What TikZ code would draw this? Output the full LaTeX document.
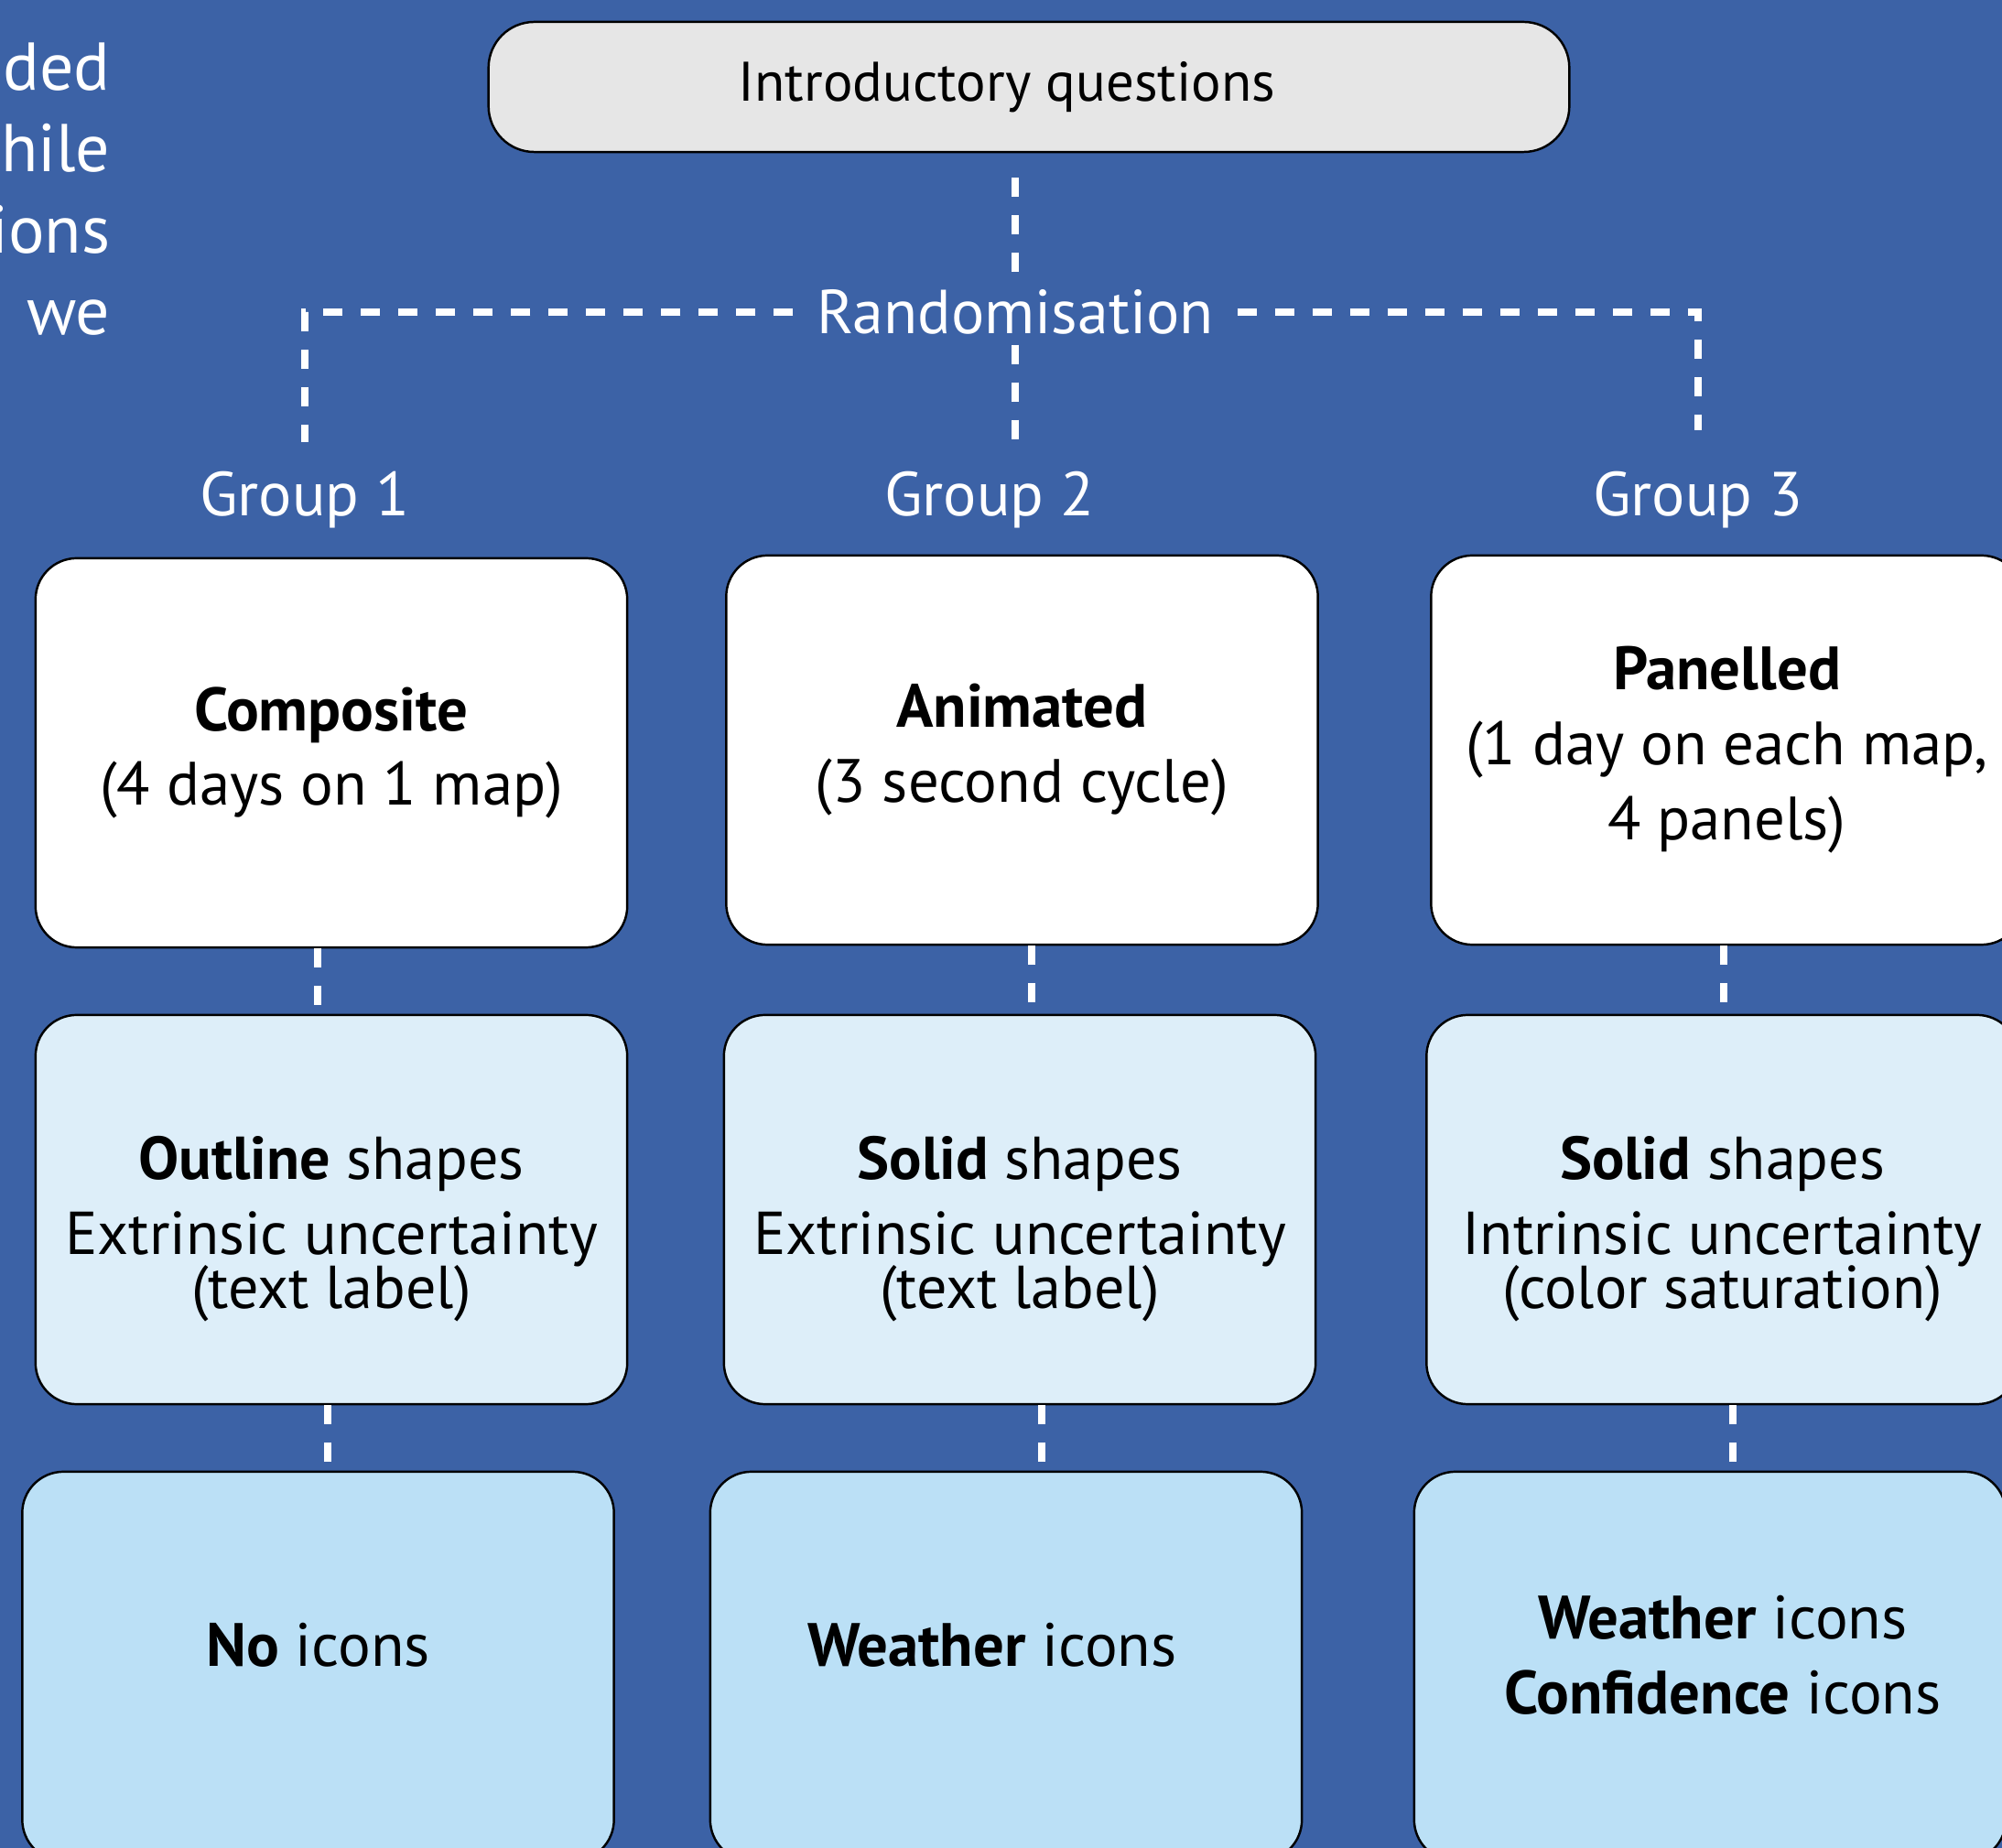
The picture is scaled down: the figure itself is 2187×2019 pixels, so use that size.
\documentclass[tikz,border=0pt]{standalone}
\usepackage{fontspec}
\setmainfont{PT Sans}
\definecolor{bgblue}{HTML}{3C62A6}
\definecolor{topfill}{HTML}{E6E6E6}
\definecolor{rowtwo}{HTML}{DDEEF9}
\definecolor{rowthree}{HTML}{BBE0F6}
\begin{document}
\lineskiplimit=-50pt
\begin{tikzpicture}[x=0.01cm,y=-0.01cm,
  boxstyle/.style={draw=black, line width=0.7pt, rounded corners=0.45cm,
    minimum width=6.46cm, minimum height=4.25cm, align=center, inner sep=0pt,
    text=black, font=\fontsize{19pt}{23.3pt}\selectfont},
  rowone/.style={boxstyle, fill=white},
  rowtwobox/.style={boxstyle, fill=rowtwo, font=\fontsize{18.8pt}{16.8pt}\selectfont},
  rowthreebox/.style={boxstyle, fill=rowthree},
  topbox/.style={draw=black, line width=0.7pt, rounded corners=0.5cm, fill=topfill,
    minimum width=11.8cm, minimum height=1.42cm, inner sep=0pt,
    font=\fontsize{17.3pt}{21pt}\selectfont},
  whitetext/.style={text=white, inner sep=0pt, font=\fontsize{19.3pt}{23pt}\selectfont},
  conn/.style={draw=white, line width=2.3pt, dash pattern=on 0.21cm off 0.20cm}
]
\useasboundingbox (0,0) rectangle (2187,2019);
\fill[bgblue] (0,0) rectangle (2187,2019);

% cut-off text at the left edge
\node[text=white, anchor=north east, align=right, inner sep=0pt,
  font=\fontsize{21pt}{25.3pt}\selectfont] (lt) at (121,46) {ded\\while\\ions\\we};

% top box and randomisation
\node[topbox] (top) at (1124,95) {Introductory questions\hspace*{0.48cm}};
\node[whitetext, anchor=base, inner xsep=0.25cm, inner ysep=0.1cm] (rand) at (1109,365) {Randomisation};

% group labels
\node[whitetext, anchor=base] (g1) at (333,564) {Group 1};
\node[whitetext, anchor=base] (g2) at (1081,564) {Group 2};
\node[whitetext, anchor=base] (g3) at (1855,564) {Group 3};

% boxes
\node[rowone] (r1a) at (362,822.5) {\textbf{Composite}\\{}(4 days on 1 map)};
\node[rowone] (r1b) at (1116.5,819.5) {\textbf{Animated}\\{}(3 second cycle)};
\node[rowone] (r1c) at (1886.5,819.5) {\textbf{Panelled}\\{}(1 day on each map,\\4 panels)};

\node[rowtwobox] (r2a) at (362,1321.5) {\rule{0pt}{0.9cm}\textbf{Outline} shapes\\[6.5pt]Extrinsic uncertainty\\{}(text label)};
\node[rowtwobox] (r2b) at (1114,1321.5) {\rule{0pt}{0.9cm}\textbf{Solid} shapes\\[6.5pt]Extrinsic uncertainty\\{}(text label)};
\node[rowtwobox] (r2c) at (1881.5,1321.5) {\rule{0pt}{0.9cm}\textbf{Solid} shapes\\[6.5pt]Intrinsic uncertainty\\{}(color saturation)};

\node[rowthreebox, text depth=0.48cm] (r3a) at (347.5,1820.5) {\textbf{No} icons};
\node[rowthreebox, text depth=0.48cm] (r3b) at (1099,1820.5) {\textbf{Weather} icons\hspace*{0.3cm}};
\node[rowthreebox, text depth=0.26cm] (r3c) at (1868,1820.5) {\hspace*{0.28cm}\textbf{Weather} icons\\\hspace*{0.28cm}\textbf{Confidence} icons};

% connectors
\draw[conn, shorten <=0.27cm] (top.south -| rand.north) -- (rand.north);
\draw[conn, shorten >=0.26cm] (rand.south) -- (rand.south |- g2.north);
\draw[conn, shorten >=0.32cm] (rand.west) -- (rand.west -| g1.north) -- (g1.north);
\draw[conn, shorten >=0.45cm] (rand.east) -- (rand.east -| g3.north) -- (g3.north);

\draw[conn] ([xshift=-0.15cm]r1a.south) -- ([xshift=-0.15cm]r1a.south |- r2a.north);
\draw[conn] ([xshift=0.105cm]r1b.south) -- ([xshift=0.105cm]r1b.south |- r2b.north);
\draw[conn] ([xshift=-0.035cm]r1c.south) -- ([xshift=-0.035cm]r1c.south |- r2c.north);
\draw[conn] ([xshift=-0.04cm]r2a.south) -- ([xshift=-0.04cm]r2a.south |- r3a.north);
\draw[conn] ([xshift=0.24cm]r2b.south) -- ([xshift=0.24cm]r2b.south |- r3b.north);
\draw[conn] ([xshift=0.115cm]r2c.south) -- ([xshift=0.115cm]r2c.south |- r3c.north);
\end{tikzpicture}
\end{document}
